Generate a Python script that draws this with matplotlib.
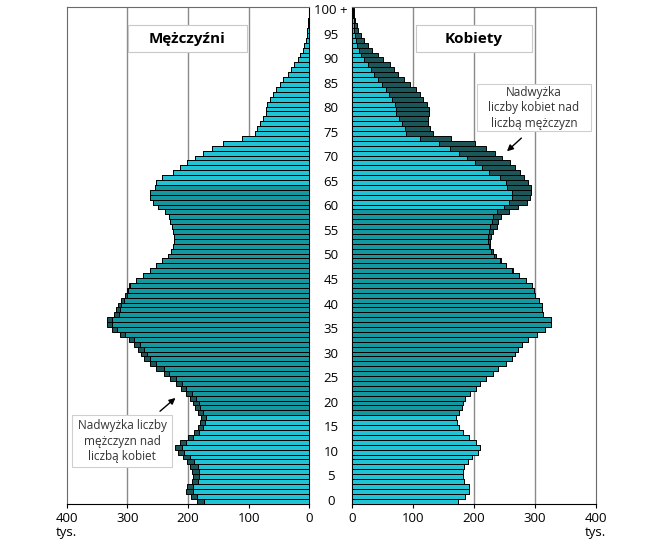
import numpy as np
import matplotlib
matplotlib.use('Agg')
import matplotlib.pyplot as plt
import matplotlib.transforms as mtransforms
from matplotlib.patches import Rectangle

plt.rcParams['font.family'] = ['Open Sans', 'DejaVu Sans']

# Age groups 0 .. 100+ (population in thousands)
ages = np.arange(0, 101)

men = [185, 195, 203, 202, 194, 192, 193, 196, 201, 208,
       217, 221, 213, 200, 190, 184, 180, 179, 184, 189,
       192, 196, 203, 212, 220, 229, 240, 252, 262, 273,
       277, 282, 289, 297, 312, 326, 334, 334, 322, 318,
       316, 310, 304, 301, 297, 286, 275, 263, 252, 243,
       233, 228, 225, 223, 223, 225, 227, 229, 232, 238,
       249, 258, 262, 262, 254, 252, 243, 224, 213, 202,
       188, 175, 161, 142, 111, 89, 87, 81, 76, 72,
       72, 70, 65, 60, 55, 49, 43, 35, 30, 25,
       19, 15, 11, 8, 6, 4, 3, 2, 2, 1,
       1]

women = [174, 185, 192, 191, 184, 182, 182, 184, 190, 197,
         207, 210, 203, 191, 182, 176, 172, 171, 175, 180,
         182, 186, 194, 203, 210, 220, 231, 240, 252, 263,
         267, 273, 279, 289, 304, 317, 326, 326, 314, 312,
         311, 306, 301, 299, 296, 285, 274, 264, 253, 245,
         236, 231, 227, 226, 228, 232, 237, 240, 245, 258,
         273, 287, 292, 294, 294, 288, 282, 276, 268, 259,
         246, 234, 220, 201, 162, 133, 127, 125, 125, 126,
         126, 122, 116, 111, 105, 95, 85, 75, 68, 62,
         51, 42, 32, 26, 19, 14, 10, 7, 4, 3,
         3]

age_ticks = list(range(0, 101, 5))
age_labels = [str(a) for a in age_ticks[:-1]] + ['100 +']
x_ticks = [0, 100, 200, 300, 400]

LIGHT = '#20c4d4'
TEAL = '#14979e'
DARK = '#1c5658'


def draw_side(ax, own, other, work_end):
    own = np.array(own)
    base = np.minimum(own, np.array(other))
    colors = [TEAL if 18 <= a < work_end else LIGHT for a in ages]
    # surplus part first, then the common part on top
    ax.barh(ages, own, height=1.0, color=DARK, edgecolor='black',
            linewidth=0.7, zorder=2)
    ax.barh(ages, base, height=1.0, color=colors, edgecolor='black',
            linewidth=0.7, zorder=3)
    for g in (100, 200, 300):
        ax.axvline(g, color='#8a8a8a', lw=1, zorder=1)
    ax.set_ylim(-0.6, 100.8)
    ax.set_yticks([])
    ax.set_xticks(x_ticks)
    ax.tick_params(axis='x', length=3, width=0.8, pad=3, labelsize=9.5)
    for s in ax.spines.values():
        s.set_color('#6a6a6a')
        s.set_linewidth(0.8)
    ax.spines['bottom'].set_color('black')


def title_box(ax, label, x0, x1):
    ax.add_patch(Rectangle((x0, 0.909), x1 - x0, 0.055, transform=ax.transAxes,
                           fc='white', ec='#c8c8c8', lw=0.8, zorder=4))
    ax.text((x0 + x1) / 2, 0.9365, label, transform=ax.transAxes, ha='center',
            va='center', fontsize=11, fontweight='bold', zorder=5)


def note_box(ax, text, x0, x1, y0, y1, tail, tip):
    ax.add_patch(Rectangle((x0, y0), x1 - x0, y1 - y0, transform=ax.transAxes,
                           fc='white', ec='#cfcfcf', lw=0.8, zorder=4))
    ax.text((x0 + x1) / 2, (y0 + y1) / 2, text, transform=ax.transAxes,
            ha='center', va='center', fontsize=8.5, color='#333333',
            linespacing=1.25, zorder=5)
    ax.annotate('', xy=tip, xytext=tail, xycoords='axes fraction',
                arrowprops=dict(arrowstyle='-|>', color='black', lw=1,
                                mutation_scale=9), zorder=5)


fig = plt.figure(figsize=(6.45, 5.47), dpi=100)
axL = fig.add_axes([0.1034, 0.0786, 0.3761, 0.9086])
axR = fig.add_axes([0.5462, 0.0786, 0.3774, 0.9086])

draw_side(axL, men, women, 65)
axL.set_xlim(400, 0)
axL.spines['right'].set_color('black')

draw_side(axR, women, men, 60)
axR.set_xlim(0, 400)
axR.spines['left'].set_color('black')

title_box(axL, 'Mężczyźni', 0.253, 0.743)
title_box(axR, 'Kobiety', 0.262, 0.738)

note_box(axR, 'Nadwyżka\nliczby kobiet nad\nliczbą mężczyzn',
         0.512, 0.981, 0.750, 0.845, (0.703, 0.740), (0.627, 0.706))
note_box(axL, 'Nadwyżka liczby\nmężczyzn nad\nliczbą kobiet',
         0.022, 0.434, 0.074, 0.179, (0.376, 0.183), (0.457, 0.217))

# "tys." under the 400 ticks
for ax in (axL, axR):
    tr = mtransforms.blended_transform_factory(ax.transData, ax.transAxes)
    ax.text(400, -0.057, 'tys.', transform=tr, ha='center', va='center',
            fontsize=9.5, clip_on=False)

# age labels between the two panels
tr = mtransforms.blended_transform_factory(fig.transFigure, axL.transData)
for a, lab in zip(age_ticks, age_labels):
    axL.text(0.513, a, lab, transform=tr, ha='center', va='center',
             fontsize=9.5, clip_on=False)

fig.savefig('out.png', dpi=100)
